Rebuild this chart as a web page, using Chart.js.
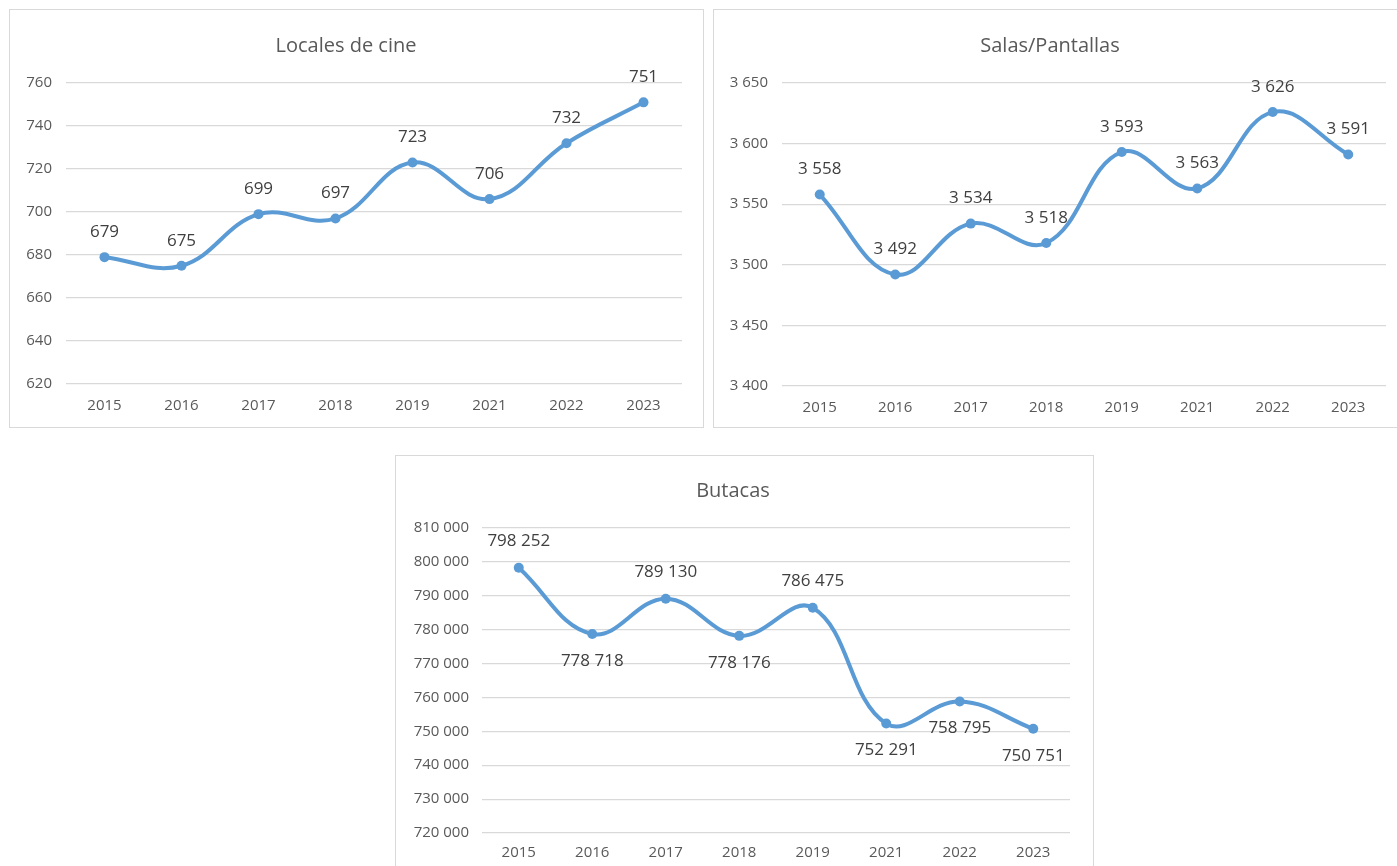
<!DOCTYPE html>
<html lang="es">
<head>
<meta charset="utf-8">
<title>Locales, salas y butacas de cine</title>
<script src="https://cdn.jsdelivr.net/npm/chart.js@4.4.1/dist/chart.umd.min.js"></script>
<style>
    html, body { margin: 0; padding: 0; background: #fff; overflow: hidden; width: 1397px; height: 866px; }
    .panel { position: absolute; border: 1px solid #d9d9d9; background: #fff; box-sizing: border-box; }
    .panel canvas { display: block; }
</style>
</head>
<body>
<div class="panel" id="panelLocales" style="left:9px; top:9px; width:695px; height:419px;"><canvas id="localesChart"></canvas></div>
<div class="panel" id="panelSalas" style="left:713px; top:9px; width:700px; height:419px;"><canvas id="salasChart"></canvas></div>
<div class="panel" id="panelButacas" style="left:395px; top:455px; width:699px; height:425px;"><canvas id="butacasChart"></canvas></div>

<script>
// Data
const years = ['2015', '2016', '2017', '2018', '2019', '2021', '2022', '2023'];
const localesData = [679, 675, 699, 697, 723, 706, 732, 751];
const salasData = [3558, 3492, 3534, 3518, 3593, 3563, 3626, 3591];
const butacasData = [798252, 778718, 789130, 778176, 786475, 752291, 758795, 750751];

// Axis ranges (min, max, step)
const localesAxis = [620, 760, 20];
const salasAxis = [3400, 3650, 50];
const butacasAxis = [720000, 810000, 10000];

// where the value labels sit
const butacasLabelPos = ['above', 'below', 'above', 'below', 'above', 'below', 'below', 'below'];

const FONT = "'Open Sans', 'Noto Sans', 'DejaVu Sans', sans-serif";
const LINE_COLOR = '#5b9bd5';

// Number format with space as thousands separator (3 650, 810 000)
function fmt(v) {
    return String(Math.round(v)).replace(/\B(?=(\d{3})+(?!\d))/g, ' ');
}

// Simple value label plugin
const valueLabels = {
    id: 'valueLabels',
    afterDatasetsDraw(chart, args, opts) {
        const ctx = chart.ctx;
        const meta = chart.getDatasetMeta(0);
        const values = chart.data.datasets[0].data;
        ctx.save();
        ctx.font = '17px ' + FONT;
        ctx.fillStyle = '#404040';
        ctx.textAlign = 'center';
        ctx.textBaseline = 'middle';
        meta.data.forEach((pt, i) => {
            const pos = opts.positions ? opts.positions[i] : 'above';
            const dy = pos === 'below' ? opts.offset : -opts.offset;
            ctx.fillText(fmt(values[i]), pt.x, pt.y + dy);
        });
        ctx.restore();
    }
};

function makeChart(id, title, data, axis, lay, labelOpts) {
    const ctx = document.getElementById(id);
    const panel = ctx.parentElement;
    ctx.width = panel.clientWidth;
    ctx.height = panel.clientHeight;
    return new Chart(ctx, {
        type: 'line',
        data: {
            labels: years,
            datasets: [{
                data: data,
                borderColor: LINE_COLOR,
                backgroundColor: LINE_COLOR,
                borderWidth: 4,
                tension: 0.4,
                pointRadius: 5,
                pointBackgroundColor: LINE_COLOR,
                pointBorderWidth: 0,
                clip: false
            }]
        },
        options: {
            responsive: false,
            animation: false,
            devicePixelRatio: 1,
            layout: {
                padding: { left: 0, right: lay.right, top: 0, bottom: lay.bottom }
            },
            plugins: {
                legend: { display: false },
                tooltip: { enabled: false },
                title: {
                    display: true,
                    text: title,
                    color: '#595959',
                    font: { family: FONT, size: 20, weight: 'normal', lineHeight: 1.2 },
                    padding: { top: lay.titleTop, bottom: lay.top - lay.titleTop - 24 }
                },
                valueLabels: labelOpts
            },
            scales: {
                x: {
                    offset: true,
                    grid: { display: false, drawTicks: false },
                    border: { display: false },
                    ticks: {
                        color: '#595959',
                        font: { family: FONT, size: 15 },
                        padding: lay.xPad,
                        maxRotation: 0,
                        autoSkip: false
                    }
                },
                y: {
                    min: axis[0],
                    max: axis[1],
                    afterFit: function (scale) { scale.width = lay.left; },
                    grid: { color: '#d9d9d9', lineWidth: 1.2, drawTicks: false },
                    border: { display: false },
                    ticks: {
                        stepSize: axis[2],
                        color: '#595959',
                        font: { family: FONT, size: 15 },
                        padding: lay.yPad,
                        callback: function (v) { return fmt(v); }
                    }
                }
            }
        },
        plugins: [valueLabels]
    });
}

makeChart('localesChart', 'Locales de cine', localesData, localesAxis,
    { left: 56, right: 21, top: 73, titleTop: 24, bottom: -1, xPad: 13, yPad: 14 },
    { offset: 25 });

makeChart('salasChart', 'Salas/Pantallas', salasData, salasAxis,
    { left: 68, right: 26, top: 73, titleTop: 24, bottom: -3, xPad: 13, yPad: 14 },
    { offset: 25 });

makeChart('butacasChart', 'Butacas', butacasData, butacasAxis,
    { left: 86, right: 23, top: 72, titleTop: 23, bottom: 6, xPad: 11, yPad: 13 },
    { offset: 27, positions: butacasLabelPos });
</script>
</body>
</html>
